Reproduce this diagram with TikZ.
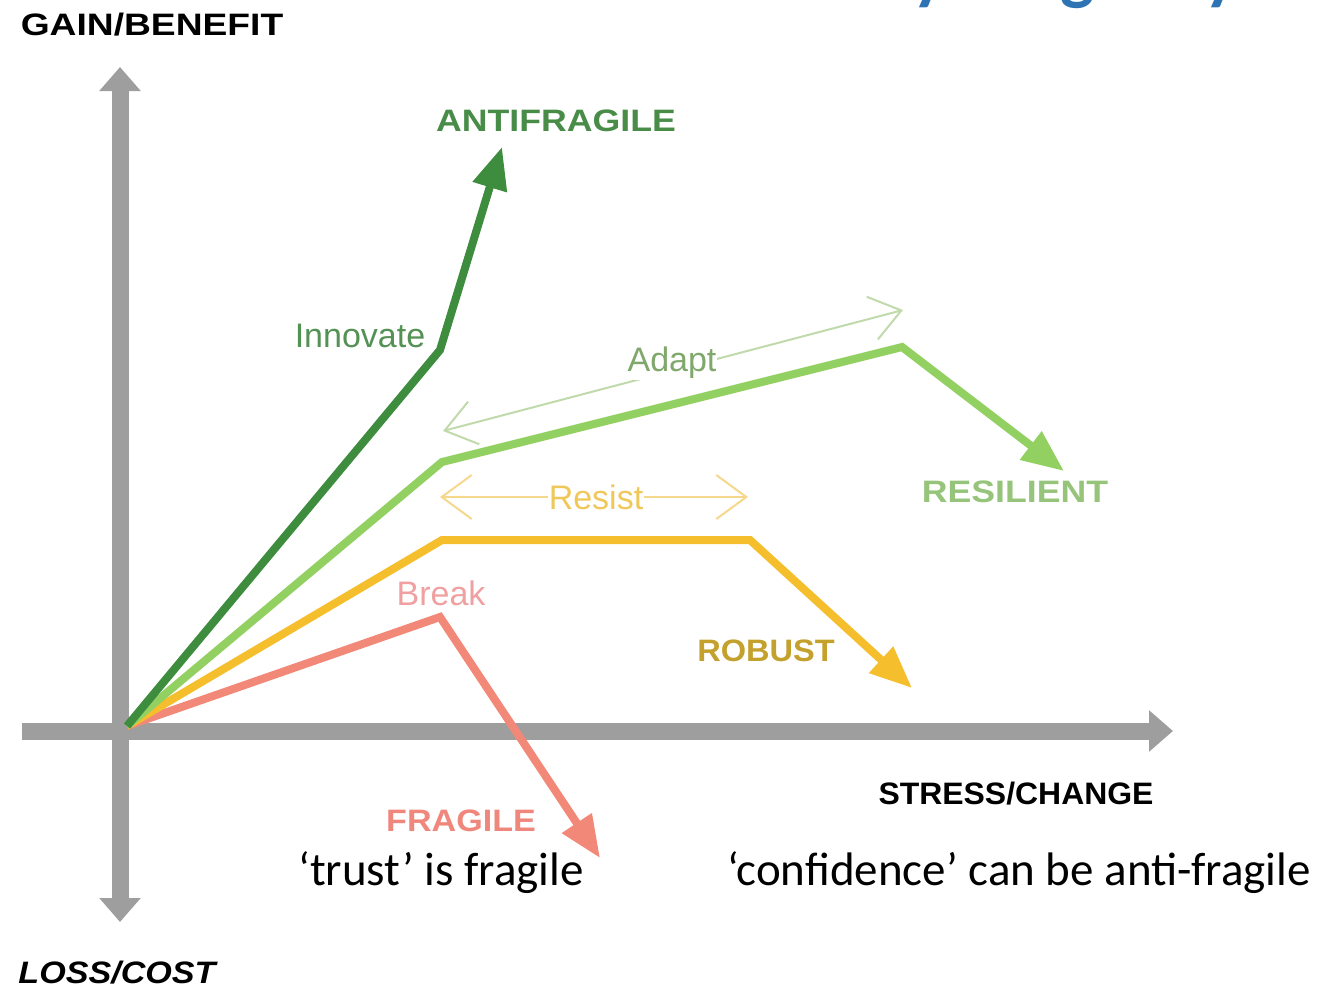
\documentclass[tikz,border=0pt]{standalone}
\usepackage{fontspec}
\setmainfont{Liberation Sans}
\newfontfamily\comicfont{Liberation Sans}
\newfontfamily\calfont{Carlito}
\usetikzlibrary{arrows.meta}

\definecolor{axisgray}{RGB}{158,158,158}
\definecolor{darkgreen}{RGB}{62,140,62}
\definecolor{lightgreen}{RGB}{146,208,98}
\definecolor{robustyellow}{RGB}{245,190,45}
\definecolor{salmon}{RGB}{242,136,120}
\definecolor{adaptline}{RGB}{192,218,172}
\definecolor{adapttext}{RGB}{128,168,108}
\definecolor{resistline}{RGB}{246,216,140}
\definecolor{resisttext}{RGB}{240,200,90}
\definecolor{breaktext}{RGB}{240,160,160}
\definecolor{innovtext}{RGB}{84,145,84}
\definecolor{antitext}{RGB}{72,140,72}
\definecolor{resiltext}{RGB}{150,196,122}
\definecolor{robusttext}{RGB}{196,160,44}
\definecolor{fragtext}{RGB}{240,135,125}
\definecolor{titleblue}{RGB}{46,116,181}

\newcommand\wideletters[2][1.15]{\scalebox{#1}[1]{#2}}

\tikzset{
  axishead/.tip={Triangle[length=24pt,width=40pt]},
  curvehead/.tip={Triangle[length=42pt,width=34pt]},
  spanhead/.tip={Straight Barb[length=30pt,width=44pt]},
  axisline/.style={line width=17pt, draw=axisgray},
  curve/.style={line width=8pt},
  span/.style={line width=2pt, spanhead-spanhead},
  comic/.style={font=\comicfont\bfseries\fontsize{31}{31}\selectfont, inner sep=0pt},
  plain/.style={font=\fontsize{34}{34}\selectfont, inner sep=0pt},
  note/.style={font=\calfont\fontsize{47}{47}\selectfont, inner sep=0pt, text=black},
}

\begin{document}
\begin{tikzpicture}[x=1pt,y=-1pt]
\useasboundingbox (0,0) rectangle (1324,989);
\clip (0,0) rectangle (1324,989);

% title line above, cut by the page edge
\begin{scope}[font=\calfont\bfseries\fontsize{72}{72}\selectfont, text=titleblue]
  \node[anchor=base, inner sep=0pt] (t1) at (930,-4) {y};
  \node[anchor=base, inner sep=0pt] (t2) at (1078,-4) {g};
  \node[anchor=base, inner sep=0pt] (t3) at (1222,-4) {y};
\end{scope}

% axes
\coordinate (ytop) at (120,67);
\coordinate (ybot) at (120,922);
\coordinate (xleft) at (22,731);
\coordinate (xright) at (1173,731);
\draw[axisline, axishead-axishead] (ybot) -- (ytop);
\draw[axisline, -axishead] (xleft) -- (xright);

% origin and curve corners
\coordinate (O) at (127,726);
\coordinate (af1) at (440,350);
\coordinate (af2) at (502,147);
\coordinate (rs1) at (442,462);
\coordinate (rs2) at (902,347);
\coordinate (rs3) at (1064,471);
\coordinate (rb1) at (442,540);
\coordinate (rb2) at (750,540);
\coordinate (rb3) at (912,688);
\coordinate (fr1) at (440,617);
\coordinate (fr2) at (600,858);

\draw[curve, salmon, -curvehead] (O) -- (fr1) -- (fr2);
\draw[curve, robustyellow, -curvehead] (O) -- (rb1) -- (rb2) -- (rb3);
\draw[curve, lightgreen, -curvehead] (O) -- (rs1) -- (rs2) -- (rs3);
\draw[curve, darkgreen, -curvehead] (O) -- (af1) -- (af2);

% adapt and resist spans
\coordinate (ad1) at (443,431);
\coordinate (ad2) at (903,310);
\draw[span, adaptline] (ad1) -- (ad2);
\node[plain, text=adapttext, fill=white, inner sep=1pt] (adapt) at (672,363) {Adapt};

\coordinate (re1) at (440,497);
\coordinate (re2) at (748,497);
\draw[span, resistline] (re1) -- (re2);
\node[plain, text=resisttext, fill=white, inner sep=1pt] (resist) at (596,497) {Resist};

% curve labels
\node[plain, text=innovtext] (innovate) at (360,336) {Innovate};
\node[plain, text=breaktext] (break) at (441,593) {Break};

\node[comic, text=antitext] (anti) at (556,121) {\wideletters{ANTIFRAGILE}};
\node[comic, text=resiltext] (resil) at (1015,492) {\wideletters{RESILIENT}};
\node[comic, text=robusttext] (robust) at (766,651) {\wideletters[1.05]{ROBUST}};
\node[comic, text=fragtext] (fragile) at (461,821) {\wideletters[1.1]{FRAGILE}};

% axis labels
\node[comic, text=black] (gain) at (152,25) {\wideletters[1.2]{GAIN/BENEFIT}};
\node[comic, text=black] (stress) at (1016,794) {\wideletters[1.03]{STRESS/CHANGE}};
\node[comic, text=black, font=\comicfont\bfseries\itshape\fontsize{31}{31}\selectfont] (loss) at (117,973) {\wideletters[1.1]{LOSS/COST}};

% notes
\node[note] (trust) at (441,873) {‘trust’ is fragile};
\node[note] (conf) at (1019,873) {‘confidence’ can be anti-fragile};
\end{tikzpicture}
\end{document}
